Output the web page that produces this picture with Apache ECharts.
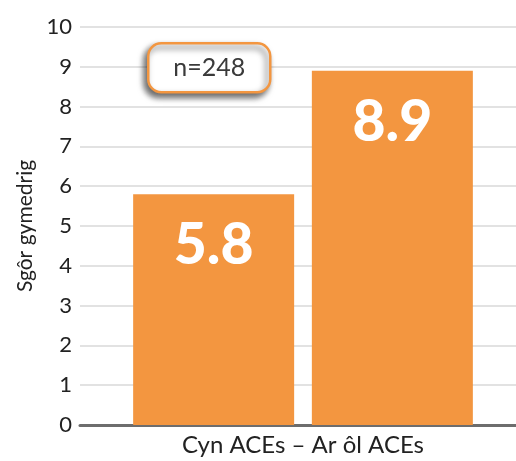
<!DOCTYPE html>
<html><head><meta charset="utf-8">
<script src="https://cdn.jsdelivr.net/npm/echarts@6/dist/echarts.min.js"></script>
<style>html,body{margin:0;padding:0;background:#fff}#c{width:516px;height:461px}</style>
</head><body><div id="c"></div>
<script>
const categories = ['Cyn ACEs – Ar ôl ACEs'];
const beforeValues = [5.8];
const afterValues = [8.9];
const yTicks = [0,1,2,3,4,5,6,7,8,9,10];
const yAxisName = 'Sgôr gymedrig';
const noteText = 'n=248';

const chart = echarts.init(document.getElementById('c'));
const labelStyle = {
  show: true, position: 'insideTop', distance: 23,
  color: '#fff', fontSize: 57, fontWeight: 900, fontFamily: 'Lato',
  formatter: p => p.value.toFixed(1)
};
chart.setOption({
  animation: false,
  grid: {left: 80, width: 446, top: 27, bottom: 36, outerBoundsMode: 'none', containLabel: false},
  xAxis: {
    type: 'category', data: categories,
    axisLine: {lineStyle: {color: '#6d6d6d', width: 3}},
    axisTick: {show: false},
    axisLabel: {color: '#222', fontSize: 24, fontFamily: 'Lato', margin: 8}
  },
  yAxis: {
    type: 'value', min: yTicks[0], max: yTicks[yTicks.length-1], interval: 1,
    name: yAxisName, nameLocation: 'middle', nameGap: 44, nameRotate: 90,
    nameTextStyle: {color: '#222', fontSize: 21, fontFamily: 'Lato'},
    axisLine: {show: false}, axisTick: {show: false},
    axisLabel: {color: '#222', fontSize: 22, fontFamily: 'Lato', margin: 8},
    splitLine: {lineStyle: {color: '#d9d9d9', width: 1.5}}
  },
  series: [
    {type: 'bar', data: beforeValues, barWidth: 161, barGap: '11%',
     itemStyle: {color: '#F39640'}, label: labelStyle},
    {type: 'bar', data: afterValues, barWidth: 161,
     itemStyle: {color: '#F39640'}, label: labelStyle}
  ],
  graphic: [{
    type: 'group', left: 147, top: 42, z: 100,
    children: [
      {type: 'rect', z: 100, shape: {x: 0, y: 0, width: 122, height: 49, r: 13},
       style: {fill: '#fff', stroke: '#F39640', lineWidth: 2.5,
               shadowBlur: 6, shadowOffsetX: -3, shadowOffsetY: 4, shadowColor: 'rgba(0,0,0,0.6)'}},
      {type: 'text', z: 101, x: 61, y: 25,
       style: {text: noteText, fill: '#3a3a3a', fontSize: 25, fontFamily: 'Lato',
               align: 'center', verticalAlign: 'middle'}}
    ]
  }]
});
</script></body></html>
